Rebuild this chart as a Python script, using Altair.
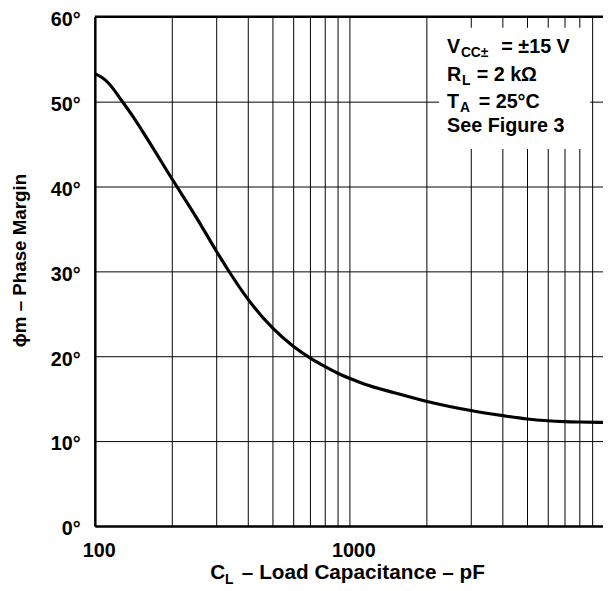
import altair as alt
import pandas as pd

# Curve: load capacitance (pF) vs phase margin (degrees)
cap_pf = [100, 106, 113, 127, 140, 160, 200, 250, 300, 330, 400, 500, 600, 700, 800,
          900, 1000, 1150, 1500, 2000, 3000, 4000, 5000, 6000, 7000, 8000, 9910]
phase_deg = [53.3, 52.9, 52.2, 50.2, 48.4, 45.7, 41.0, 36.4, 32.4, 30.4, 26.7, 23.3, 21.2, 19.8, 18.8,
             18.0, 17.4, 16.7, 15.7, 14.7, 13.6, 13.0, 12.6, 12.4, 12.3, 12.25, 12.2]

x_grid = [100, 200, 300, 400, 500, 600, 700, 800, 900,
          1000, 2000, 3000, 4000, 5000, 6000, 7000, 8000, 9000]
x_labels = [100, 1000]
y_ticks = [0, 10, 20, 30, 40, 50, 60]

FONT = "Liberation Sans"
W, H = 515, 516

df = pd.DataFrame({"C": cap_pf, "P": phase_deg})
one = pd.DataFrame({"a": [0]})

label_expr = " || ".join(f"datum.value == {v}" for v in x_labels)
label_expr = f"({label_expr}) ? format(datum.value, 'd') : ''"

x_enc = alt.X(
    "C:Q",
    scale=alt.Scale(type="log", domain=[100, 9910], nice=False),
    axis=alt.Axis(
        values=x_grid, labelExpr=label_expr, grid=True, gridColor="black", gridWidth=1,
        gridOpacity=1, ticks=False, tickSize=0, domain=True, domainColor="black",
        domainWidth=2.5, labelFont=FONT, labelFontSize=20, labelFontWeight="bold",
        labelColor="black", labelBaseline="alphabetic", labelPadding=31, labelOffset=4,
        labelFlush=False, labelOverlap=False, title=None,
    ),
)
y_enc = alt.Y(
    "P:Q",
    scale=alt.Scale(domain=[0, 60], nice=False),
    axis=alt.Axis(
        values=y_ticks, labelExpr="datum.value + '°'", grid=True, gridColor="black",
        gridWidth=1, gridOpacity=1, ticks=False, tickSize=0, domain=True,
        domainColor="black", domainWidth=2.5, labelFont=FONT, labelFontSize=20,
        labelFontWeight="bold", labelColor="black", labelPadding=15, labelOffset=3,
        labelOverlap=False, title=None,
    ),
)

curve = alt.Chart(df).mark_line(color="black", strokeWidth=3.2, interpolate="monotone").encode(
    x=x_enc, y=y_enc
)

box = alt.Chart(one).mark_rect(fill="white").encode(
    x=alt.value(349), x2=alt.value(502), y=alt.value(11), y2=alt.value(134)
)

top_border = alt.Chart(one).mark_rule(color="black", strokeWidth=2.5).encode(
    x=alt.value(0), x2=alt.value(W), y=alt.value(0)
)


def txt(text, x, y, size, angle=0, align="left", baseline="alphabetic"):
    kw = dict(text=text, font=FONT, fontSize=size, fontWeight="bold", color="black",
              align=align, baseline=baseline)
    if angle:
        kw["angle"] = angle
    return alt.Chart(one).mark_text(**kw).encode(x=alt.value(x), y=alt.value(y))


texts = [
    txt("V", 357, 37, 20),
    txt("CC±", 371, 41, 14),
    txt("= ±15 V", 412, 37, 20),
    txt("R", 357, 65, 20),
    txt("L", 372, 69, 14),
    txt("= 2 kΩ", 387, 65, 20),
    txt("T", 357, 92, 20),
    txt("A", 370, 96, 14),
    txt("= 25°C", 389, 92, 20),
    txt("See Figure 3", 357, 117, 20),
    # x axis title
    txt("C", 117, 570, 21),
    txt("L", 132, 575, 14),
    txt("– Load Capacitance – pF", 149, 570, 21),
    # y axis title
    txt("ϕm – Phase Margin", -76, 247, 19, angle=270, align="center", baseline="middle"),
]

chart = alt.layer(curve, box, top_border, *texts).properties(
    width=W,
    height=H,
    autosize=alt.AutoSizeParams(type="none"),
    padding={"left": 88, "top": 5, "right": 0, "bottom": 62},
    background="white",
).configure_view(stroke=None)

chart.save("out.html", embed_options={"renderer": "svg", "actions": False})
